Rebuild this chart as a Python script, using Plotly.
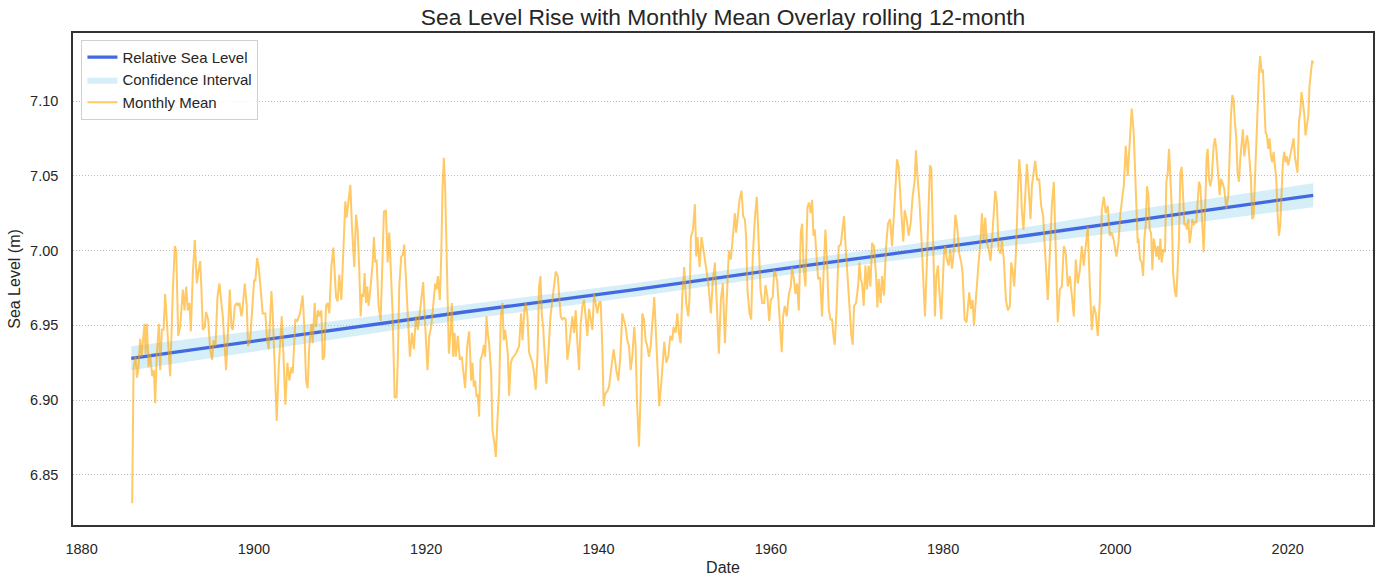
import plotly.graph_objects as go

# linear trend (Relative Sea Level) and its confidence band
trend_year = [1885.76, 1905.0, 1924.0, 1944.0, 1964.0, 1984.0, 2003.0, 2022.96]
trend_level = [6.928, 6.9435, 6.9586, 6.9737, 6.990, 7.0055, 7.021, 7.037]
ci_lower = [6.920, 6.937, 6.9535, 6.969, 6.9855, 7.0005, 7.014, 7.029]
ci_upper = [6.936, 6.950, 6.9635, 6.978, 6.9945, 7.0105, 7.028, 7.045]

# monthly mean, rolling 12-month (decimal year, metres)
mm_year_a = [
    1885.87, 1886.03, 1886.26, 1886.42, 1886.57, 1886.80, 1886.96, 1887.11, 1887.30, 1887.42,
    1887.58, 1887.77, 1887.96, 1888.19, 1888.39, 1888.54, 1888.73, 1888.97, 1889.12, 1889.31,
    1889.51, 1889.70, 1890.01, 1890.28, 1890.59, 1890.82, 1890.98, 1891.21, 1891.44, 1891.75,
    1891.94, 1892.14, 1892.33, 1892.52, 1892.68, 1892.91, 1893.14, 1893.37, 1893.53, 1893.76,
    1893.91, 1894.07, 1894.30, 1894.45, 1894.69, 1894.92, 1895.15, 1895.30, 1895.54, 1895.77,
    1896.00, 1896.19, 1896.39, 1896.58, 1896.77, 1897.01, 1897.20, 1897.39, 1897.55, 1897.78,
    1898.01, 1898.17, 1898.32, 1898.55, 1898.71, 1898.94, 1899.17, 1899.32, 1899.56, 1899.79,
    1900.02, 1900.17, 1900.37, 1900.56, 1900.83, 1901.02, 1901.33, 1901.53, 1901.72, 1901.87,
    1902.03, 1902.18, 1902.38, 1902.65, 1902.88, 1903.23, 1903.42, 1903.65, 1903.88, 1904.12,
    1904.35, 1904.50, 1904.66, 1904.81, 1905.04,
]
mm_level_a = [
    6.831, 6.922, 6.929, 6.915, 6.920, 6.941, 6.929, 6.940, 6.951, 6.931,
    6.951, 6.922, 6.931, 6.916, 6.920, 6.898, 6.931, 6.951, 6.920, 6.947,
    6.947, 6.971, 6.945, 6.916, 6.974, 7.003, 7.000, 6.943, 6.949, 6.974,
    6.960, 6.976, 6.960, 6.965, 6.946, 6.985, 7.007, 6.978, 6.985, 6.993,
    6.974, 6.947, 6.949, 6.959, 6.954, 6.934, 6.927, 6.940, 6.936, 6.969,
    6.978, 6.969, 6.956, 6.938, 6.920, 6.949, 6.974, 6.949, 6.947, 6.963,
    6.965, 6.963, 6.965, 6.956, 6.963, 6.978, 6.963, 6.936, 6.940, 6.960,
    6.980, 6.980, 6.995, 6.989, 6.971, 6.958, 6.958, 6.940, 6.934, 6.956,
    6.973, 6.958, 6.922, 6.886, 6.922, 6.956, 6.931, 6.897, 6.925, 6.913,
    6.922, 6.918, 6.936, 6.954, 6.953,
]

mm_year_b = [
    1905.35, 1905.66, 1905.85, 1906.05, 1906.24, 1906.43, 1906.67, 1906.82, 1907.05, 1907.21,
    1907.44, 1907.67, 1907.83, 1907.98, 1908.17, 1908.37, 1908.56, 1908.75, 1908.99, 1909.22,
    1909.37, 1909.53, 1909.72, 1909.91, 1910.15, 1910.38, 1910.61, 1910.76, 1910.99, 1911.19,
    1911.38, 1911.65, 1911.85, 1912.04, 1912.23, 1912.39, 1912.54, 1912.70, 1912.85, 1913.01,
    1913.16, 1913.31, 1913.55, 1913.78, 1913.93, 1914.09, 1914.24, 1914.47, 1914.71, 1914.86,
    1915.09, 1915.32, 1915.52, 1915.71, 1915.90, 1916.10, 1916.33, 1916.56, 1916.72, 1916.87,
    1917.10, 1917.26, 1917.45, 1917.64, 1917.87, 1918.11, 1918.34, 1918.57, 1918.80, 1919.03,
    1919.27, 1919.50, 1919.65, 1919.81, 1919.96, 1920.15, 1920.35, 1920.58, 1920.81, 1921.04,
    1921.20, 1921.35, 1921.58, 1921.74, 1921.89, 1922.05, 1922.20, 1922.36, 1922.51, 1922.63,
    1922.82, 1922.98, 1923.13, 1923.29, 1923.44, 1923.67, 1923.90, 1924.13, 1924.29, 1924.52,
    1924.75, 1924.99,
]
mm_level_b = [
    6.958, 6.970, 6.949, 6.913, 6.908, 6.936, 6.951, 6.938, 6.965, 6.949,
    6.960, 6.956, 6.960, 6.927, 6.929, 6.963, 6.965, 6.958, 6.989, 7.002,
    6.985, 6.969, 6.966, 6.984, 6.967, 6.998, 7.033, 7.022, 7.034, 7.044,
    7.016, 6.989, 7.024, 7.014, 6.987, 6.956, 6.971, 6.969, 6.985, 6.965,
    6.976, 6.963, 6.976, 6.992, 7.009, 6.992, 6.994, 6.963, 6.953, 6.978,
    7.026, 7.027, 6.992, 7.012, 6.985, 6.958, 6.902, 6.902, 6.931, 6.976,
    6.996, 6.997, 7.004, 6.978, 6.956, 6.929, 6.945, 6.934, 6.956, 6.947,
    6.960, 6.974, 6.979, 6.958, 6.936, 6.920, 6.943, 6.949, 6.963, 6.978,
    6.974, 6.983, 6.967, 6.996, 7.041, 7.062, 7.041, 6.996, 6.949, 6.931,
    6.945, 6.965, 6.929, 6.945, 6.929, 6.943, 6.927, 6.929, 6.920, 6.908,
    6.936, 6.946,
]

mm_year_c = [
    1925.22, 1925.37, 1925.53, 1925.68, 1925.84, 1925.99, 1926.14, 1926.30, 1926.53, 1926.69,
    1926.84, 1927.00, 1927.15, 1927.30, 1927.54, 1927.69, 1927.88, 1928.08, 1928.27, 1928.46,
    1928.66, 1928.85, 1929.00, 1929.16, 1929.31, 1929.47, 1929.62, 1929.82, 1930.01, 1930.40,
    1930.78, 1931.01, 1931.17, 1931.40, 1931.55, 1931.75, 1931.94, 1932.14, 1932.33, 1932.52,
    1932.71, 1932.91, 1933.10, 1933.26, 1933.41, 1933.57, 1933.80, 1933.95, 1934.18, 1934.42,
    1934.65, 1934.88, 1935.03, 1935.27, 1935.42, 1935.61, 1935.81, 1936.00, 1936.19, 1936.39,
    1936.58, 1936.77, 1936.97, 1937.16, 1937.35, 1937.55, 1937.74, 1937.93, 1938.13, 1938.32,
    1938.51, 1938.71, 1938.90, 1939.09, 1939.29, 1939.48, 1939.67, 1939.87, 1940.06, 1940.25,
    1940.44, 1940.60, 1940.75, 1941.02, 1941.22, 1941.41, 1941.60, 1941.76, 1941.91, 1942.07,
    1942.30, 1942.53, 1942.76, 1942.96, 1943.15, 1943.34, 1943.54, 1943.73, 1943.92, 1944.15,
    1944.31, 1944.46, 1944.70,
]
mm_level_c = [
    6.913, 6.925, 6.909, 6.913, 6.902, 6.904, 6.889, 6.927, 6.931, 6.937,
    6.929, 6.956, 6.945, 6.938, 6.918, 6.880, 6.873, 6.862, 6.887, 6.907,
    6.956, 6.965, 6.940, 6.947, 6.940, 6.931, 6.903, 6.925, 6.928, 6.931,
    6.936, 6.958, 6.940, 6.960, 6.965, 6.956, 6.932, 6.929, 6.925, 6.918,
    6.907, 6.929, 6.976, 6.983, 6.958, 6.949, 6.922, 6.911, 6.931, 6.956,
    6.967, 6.981, 6.986, 6.983, 6.967, 6.956, 6.954, 6.955, 6.954, 6.927,
    6.936, 6.947, 6.956, 6.945, 6.960, 6.938, 6.920, 6.951, 6.963, 6.967,
    6.954, 6.943, 6.961, 6.954, 6.947, 6.971, 6.965, 6.958, 6.965, 6.966,
    6.936, 6.896, 6.904, 6.906, 6.909, 6.920, 6.927, 6.934, 6.927, 6.920,
    6.913, 6.929, 6.958, 6.953, 6.949, 6.940, 6.936, 6.920, 6.929, 6.949,
    6.936, 6.900, 6.869,
]

mm_year_d = [
    1944.89, 1945.08, 1945.28, 1945.47, 1945.66, 1945.85, 1946.05, 1946.24, 1946.47, 1946.63,
    1946.86, 1947.05, 1947.25, 1947.48, 1947.63, 1947.86, 1948.10, 1948.33, 1948.56, 1948.71,
    1948.95, 1949.14, 1949.33, 1949.53, 1949.72, 1949.95, 1950.18, 1950.42, 1950.57, 1950.72,
    1950.96, 1951.19, 1951.34, 1951.50, 1951.73, 1951.96, 1952.19, 1952.42, 1952.58, 1952.81,
    1953.04, 1953.27, 1953.51, 1953.74, 1953.97, 1954.20, 1954.43, 1954.67, 1954.90, 1955.13,
    1955.36, 1955.59, 1955.83, 1955.98, 1956.14, 1956.37, 1956.60, 1956.79, 1956.99, 1957.14,
    1957.29, 1957.53, 1957.72, 1957.91, 1958.14, 1958.38, 1958.61, 1958.80, 1959.00, 1959.23,
    1959.38, 1959.61, 1959.81, 1960.00, 1960.23, 1960.39, 1960.54, 1960.73, 1960.93, 1961.12,
    1961.27, 1961.43, 1961.62, 1961.85, 1962.09, 1962.32, 1962.47, 1962.70, 1962.86, 1963.05,
    1963.25, 1963.48, 1963.63, 1963.83, 1964.02, 1964.25, 1964.41,
]
mm_level_d = [
    6.904, 6.958, 6.954, 6.940, 6.936, 6.929, 6.936, 6.954, 6.969, 6.949,
    6.913, 6.896, 6.909, 6.929, 6.939, 6.925, 6.929, 6.943, 6.940, 6.949,
    6.945, 6.958, 6.945, 6.938, 6.969, 6.989, 6.965, 6.956, 6.969, 7.009,
    7.014, 7.031, 6.996, 7.009, 6.989, 7.009, 7.000, 6.994, 6.985, 6.974,
    6.958, 6.980, 6.992, 6.963, 6.931, 6.967, 6.978, 6.938, 6.967, 7.000,
    6.994, 7.009, 7.025, 7.012, 7.023, 7.034, 7.040, 7.023, 7.021, 7.009,
    6.974, 6.958, 6.954, 6.996, 7.021, 7.036, 7.003, 6.974, 6.965, 6.965,
    6.977, 6.969, 6.953, 6.967, 6.969, 6.987, 6.985, 6.980, 6.963, 6.945,
    6.932, 6.956, 6.963, 6.956, 6.971, 6.976, 6.989, 6.980, 6.971, 6.978,
    6.960, 7.012, 7.018, 6.987, 6.976, 7.029, 7.032,
]

mm_year_e = [
    1964.48, 1964.64, 1964.79, 1964.95, 1965.10, 1965.26, 1965.49, 1965.72, 1965.95, 1966.14,
    1966.34, 1966.53, 1966.72, 1966.92, 1967.11, 1967.27, 1967.42, 1967.65, 1967.88, 1968.12,
    1968.35, 1968.50, 1968.66, 1968.85, 1969.04, 1969.20, 1969.35, 1969.51, 1969.66, 1969.89,
    1970.13, 1970.28, 1970.43, 1970.59, 1970.78, 1970.98, 1971.17, 1971.36, 1971.56, 1971.75,
    1971.98, 1972.21, 1972.37, 1972.52, 1972.75, 1972.91, 1973.14, 1973.37, 1973.60, 1973.84,
    1974.07, 1974.26, 1974.45, 1974.65, 1974.84, 1975.03, 1975.23, 1975.38, 1975.54, 1975.77,
    1976.00, 1976.23, 1976.46, 1976.70, 1976.85, 1977.00, 1977.24, 1977.47, 1977.70, 1977.89,
    1978.09, 1978.32, 1978.47, 1978.63, 1978.78, 1978.94, 1979.05, 1979.21, 1979.40, 1979.55,
    1979.79, 1979.94, 1980.10, 1980.25, 1980.44, 1980.64, 1980.83, 1981.02, 1981.22, 1981.41,
    1981.64, 1981.87, 1982.11, 1982.26, 1982.49, 1982.72, 1982.88, 1983.03, 1983.23, 1983.42,
    1983.58, 1983.73, 1983.96, 1984.12,
]
mm_level_e = [
    7.031, 7.025, 7.034, 7.010, 7.014, 6.998, 6.981, 6.982, 6.956, 6.987,
    7.014, 6.992, 6.961, 6.954, 6.954, 6.943, 6.937, 6.963, 7.003, 7.004,
    7.018, 7.023, 7.005, 6.987, 6.972, 6.954, 6.943, 6.937, 6.963, 6.965,
    6.976, 6.992, 6.981, 6.978, 6.963, 6.990, 6.974, 6.990, 6.976, 7.005,
    7.003, 6.983, 6.962, 6.981, 6.965, 6.983, 6.970, 7.002, 7.018, 7.021,
    7.003, 7.021, 7.043, 7.061, 7.056, 7.034, 7.018, 7.006, 7.027, 7.021,
    7.010, 7.018, 7.036, 7.047, 7.067, 7.052, 7.034, 7.010, 6.976, 6.956,
    6.987, 7.030, 7.057, 7.055, 7.021, 6.981, 6.956, 6.983, 6.990, 6.974,
    6.954, 6.976, 6.998, 7.003, 6.994, 6.990, 7.001, 6.988, 6.998, 7.024,
    7.016, 6.998, 6.992, 6.985, 6.954, 6.952, 6.961, 6.972, 6.961, 6.967,
    6.950, 6.963, 6.981, 6.992,
]

mm_year_f = [
    1984.35, 1984.50, 1984.70, 1984.89, 1985.08, 1985.28, 1985.51, 1985.74, 1985.89, 1986.05,
    1986.24, 1986.44, 1986.67, 1986.82, 1987.05, 1987.29, 1987.52, 1987.75, 1987.90, 1988.06,
    1988.25, 1988.45, 1988.68, 1988.83, 1988.99, 1989.14, 1989.33, 1989.53, 1989.72, 1989.91,
    1990.15, 1990.30, 1990.49, 1990.69, 1990.92, 1991.15, 1991.38, 1991.61, 1991.85, 1992.00,
    1992.15, 1992.39, 1992.62, 1992.85, 1993.08, 1993.31, 1993.55, 1993.78, 1994.01, 1994.24,
    1994.47, 1994.71, 1994.94, 1995.17, 1995.40, 1995.63, 1995.87, 1996.10, 1996.33, 1996.56,
    1996.79, 1997.03, 1997.26, 1997.49, 1997.72, 1997.95, 1998.18, 1998.42, 1998.65, 1998.88,
    1999.11, 1999.34, 1999.58, 1999.81, 2000.12, 2000.35, 2000.58, 2000.81, 2000.97, 2001.20,
    2001.43, 2001.66, 2001.89, 2002.13, 2002.36, 2002.59,
]
mm_level_f = [
    7.007, 7.025, 7.007, 7.022, 7.005, 7.001, 6.993, 7.014, 7.021, 7.040,
    7.032, 7.001, 6.998, 7.007, 6.994, 6.967, 6.960, 6.963, 6.992, 6.987,
    6.976, 6.998, 7.038, 7.061, 7.050, 7.027, 7.014, 7.041, 7.058, 7.043,
    7.021, 7.043, 7.050, 7.060, 7.047, 7.048, 7.030, 7.023, 6.998, 6.983,
    6.967, 6.998, 7.030, 7.046, 7.003, 6.952, 6.974, 6.976, 7.003, 6.998,
    6.976, 6.983, 6.970, 6.956, 6.994, 6.978, 6.987, 7.003, 6.990, 7.001,
    7.016, 6.976, 6.947, 6.963, 6.958, 6.943, 6.965, 7.027, 7.036, 7.025,
    7.030, 7.010, 7.012, 7.007, 6.996, 7.005, 7.025, 7.036, 7.043, 7.070,
    7.050, 7.072, 7.095, 7.078, 7.034, 7.005,
]

mm_year_g = [
    2002.67, 2002.86, 2003.05, 2003.21, 2003.36, 2003.52, 2003.67, 2003.83, 2003.98, 2004.14,
    2004.29, 2004.44, 2004.60, 2004.75, 2004.91, 2005.06, 2005.22, 2005.37, 2005.57, 2005.76,
    2005.91, 2006.07, 2006.22, 2006.38, 2006.53, 2006.69, 2006.92, 2007.07, 2007.23, 2007.38,
    2007.54, 2007.69, 2007.85, 2008.00, 2008.15, 2008.31, 2008.46, 2008.62, 2008.77, 2008.93,
    2009.08, 2009.24, 2009.39, 2009.55, 2009.70, 2009.86, 2010.01, 2010.24, 2010.40, 2010.59,
    2010.71, 2010.86, 2011.01, 2011.17, 2011.40, 2011.56, 2011.71, 2011.94, 2012.10, 2012.25,
    2012.41, 2012.64, 2012.87, 2013.10, 2013.26, 2013.41, 2013.57, 2013.72, 2013.87, 2014.03,
    2014.18, 2014.34, 2014.49, 2014.65, 2014.80, 2014.96, 2015.11, 2015.27, 2015.42, 2015.58,
    2015.73, 2015.88, 2016.04, 2016.19, 2016.35, 2016.50, 2016.66, 2016.81, 2016.97, 2017.12,
    2017.28, 2017.43, 2017.58, 2017.74, 2017.89, 2018.05, 2018.20, 2018.36, 2018.51, 2018.67,
    2018.82, 2018.98, 2019.13, 2019.29, 2019.44, 2019.59, 2019.75, 2019.90, 2020.06, 2020.21,
    2020.37, 2020.52, 2020.68, 2020.83, 2020.99, 2021.14, 2021.30, 2021.45, 2021.60, 2021.76,
    2021.91, 2022.07, 2022.22, 2022.38, 2022.53, 2022.69, 2022.84, 2022.96,
]
mm_level_g = [
    7.008, 6.994, 6.992, 6.983, 7.008, 7.017, 7.043, 7.037, 7.014, 7.012,
    6.987, 7.008, 7.003, 6.996, 7.003, 6.994, 7.008, 6.992, 7.001, 6.999,
    7.046, 7.052, 7.068, 7.048, 7.030, 6.985, 6.972, 6.969, 6.985, 7.008,
    7.052, 7.056, 7.037, 7.017, 7.018, 7.014, 7.021, 7.005, 7.012, 7.021,
    7.017, 7.019, 7.019, 7.030, 7.046, 7.043, 7.025, 6.999, 7.025, 7.063,
    7.068, 7.048, 7.043, 7.048, 7.070, 7.075, 7.068, 7.048, 7.037, 7.048,
    7.046, 7.041, 7.028, 7.037, 7.066, 7.090, 7.104, 7.101, 7.086, 7.075,
    7.052, 7.046, 7.061, 7.075, 7.081, 7.063, 7.070, 7.077, 7.072, 7.061,
    7.048, 7.021, 7.023, 7.046, 7.075, 7.097, 7.119, 7.130, 7.119, 7.121,
    7.101, 7.079, 7.077, 7.068, 7.075, 7.063, 7.059, 7.066, 7.057, 7.048,
    7.025, 7.010, 7.017, 7.043, 7.059, 7.066, 7.059, 7.063, 7.057, 7.061,
    7.066, 7.070, 7.075, 7.063, 7.057, 7.052, 7.086, 7.092, 7.106, 7.099,
    7.092, 7.077, 7.083, 7.090, 7.110, 7.117, 7.127, 7.125,
]

x_ticks = [1880, 1900, 1920, 1940, 1960, 1980, 2000, 2020]
y_ticks = [6.85, 6.90, 6.95, 7.00, 7.05, 7.10]

mm_year = mm_year_a + mm_year_b + mm_year_c + mm_year_d + mm_year_e + mm_year_f + mm_year_g
mm_level = mm_level_a + mm_level_b + mm_level_c + mm_level_d + mm_level_e + mm_level_f + mm_level_g
assert len(mm_year) == len(mm_level)

TEXT = "#262626"
FONT = "Liberation Sans, Arial, sans-serif"

fig = go.Figure()

# confidence band
fig.add_trace(go.Scatter(
    x=trend_year, y=ci_lower, mode="lines", line=dict(width=0),
    showlegend=False, hoverinfo="skip",
))
fig.add_trace(go.Scatter(
    x=trend_year, y=ci_upper, mode="lines", line=dict(width=0),
    fill="tonexty", fillcolor="rgba(135,206,235,0.35)",
    name="Confidence Interval", legendrank=2,
))
fig.add_trace(go.Scatter(
    x=trend_year, y=trend_level, mode="lines",
    line=dict(color="#4169E1", width=3.3),
    name="Relative Sea Level", legendrank=1,
))
fig.add_trace(go.Scatter(
    x=mm_year, y=mm_level, mode="lines",
    line=dict(color="rgba(255,165,0,0.6)", width=2),
    name="Monthly Mean", legendrank=3,
))

axis_common = dict(
    showline=True, mirror=True, linecolor="#333333", linewidth=1.5,
    ticks="outside", tickcolor="rgba(0,0,0,0)",
    tickfont=dict(size=14.5, color=TEXT, family=FONT),
    zeroline=False, automargin=False,
)

fig.update_xaxes(
    range=[1879.0, 2029.9], tickvals=x_ticks, ticklen=10, showgrid=False,
    title=dict(text="Date", font=dict(size=16, color=TEXT, family=FONT), standoff=6),
    **axis_common,
)
fig.update_yaxes(
    range=[6.8165, 7.1455], tickvals=y_ticks, ticktext=[f"{v:.2f}" for v in y_ticks],
    ticklen=10, showgrid=True, gridcolor="#bdbdbd", gridwidth=1, griddash="1px,2px",
    title=dict(text="Sea Level (m)", font=dict(size=16, color=TEXT, family=FONT), standoff=6),
    **axis_common,
)

fig.update_layout(
    width=1384, height=584,
    margin=dict(l=73, r=11, t=33, b=59),
    paper_bgcolor="white", plot_bgcolor="white",
    font=dict(family=FONT, color=TEXT),
    title=dict(
        text="Sea Level Rise with Monthly Mean Overlay rolling 12-month",
        font=dict(size=22.8, color=TEXT, family=FONT),
        x=0.5, xref="paper", xanchor="center",
        y=0.971, yref="container", yanchor="middle",
    ),
    legend=dict(
        x=0.0065, y=0.986, xanchor="left", yanchor="top",
        bgcolor="rgba(255,255,255,0.8)", bordercolor="#d0d0d0", borderwidth=1,
        font=dict(size=15, color=TEXT, family=FONT),
        tracegroupgap=0, traceorder="normal",
    ),
    hovermode=False,
)

# the page body has an 8px default margin; drop it so the figure sits at 0,0
fig.write_html(
    "out.html",
    config={"displayModeBar": False},
    post_script="document.body.style.margin='0';",
)
